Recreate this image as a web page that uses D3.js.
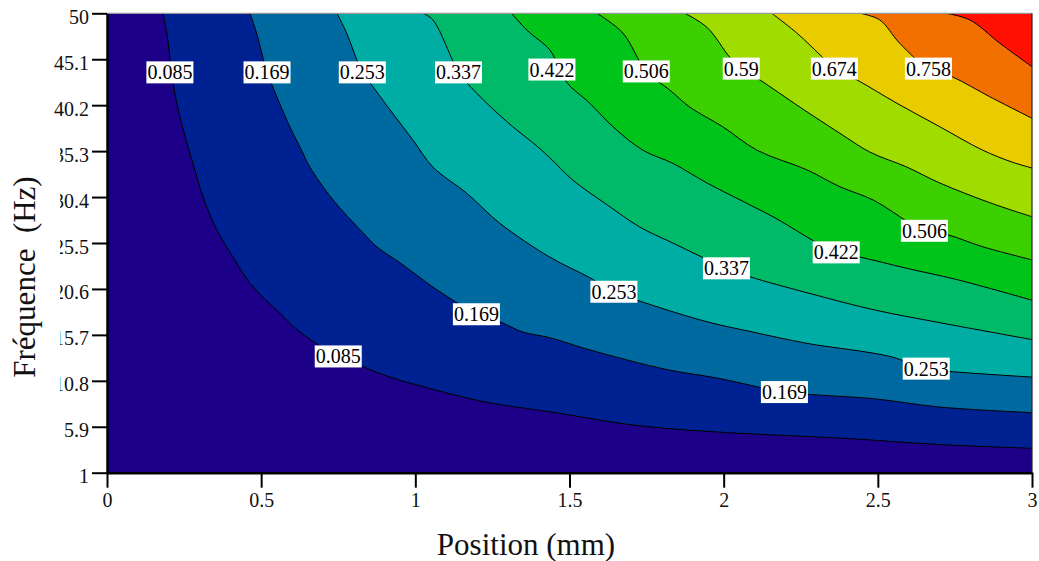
<!DOCTYPE html>
<html>
<head>
<meta charset="utf-8">
<script src="https://cdn.jsdelivr.net/npm/d3@7"></script>
<style>
  html, body { margin: 0; padding: 0; background: #fff; }
  svg { display: block; font-family: "Liberation Serif", "Times New Roman", serif; }
  svg text { font-family: "Liberation Serif", "Times New Roman", serif; }
</style>
</head>
<body>
<svg id="chart" width="1039" height="561"></svg>
<script>
// ---- Data ----
const xTicks = [0, 0.5, 1, 1.5, 2, 2.5, 3];
const xTickLabels = ["0", "0.5", "1", "1.5", "2", "2.5", "3"];
const yTicks = [1, 5.9, 10.8, 15.7, 20.6, 25.5, 30.4, 35.3, 40.2, 45.1, 50];
const yTickLabels = ["1", "5.9", "10.8", "15.7", "20.6", "25.5", "30.4", "35.3", "40.2", "45.1", "50"];

const levels = [0.085, 0.169, 0.253, 0.337, 0.422, 0.506, 0.59, 0.674, 0.758, 0.842];
const levelLabels = ["0.085", "0.169", "0.253", "0.337", "0.422", "0.506", "0.59", "0.674", "0.758", "0.842"];

// Region colours: below first level, then between levels, then above last level
const bandColors = ["#1c0087", "#002191", "#0069a0", "#00ada5", "#00b969", "#00c419",
                    "#3cd000", "#a0dc00", "#e8cc00", "#f27000", "#ff1000"];

// Contour lines as [position mm, frequency Hz]
const c085 = [[0.181,50],[0.194,47.9],[0.214,42.6],[0.237,38.9],[0.266,35.4],[0.291,32.6],[0.315,30.1],
  [0.356,26.9],[0.409,24.0],[0.464,21.2],[0.561,18.0],[0.626,16.0],[0.749,13.4],[0.830,12.3],[0.918,11.2],
  [1.057,9.9],[1.219,8.6],[1.349,7.9],[1.436,7.5],[1.728,6.0],[2.053,5.2],[2.377,4.7],[2.701,4.0],[3.0,3.6]];
const c169 = [[0.464,50],[0.485,47.9],[0.519,43.7],[0.538,42.1],[0.593,37.9],[0.631,35.4],[0.658,33.6],
  [0.733,30.1],[0.830,26.6],[0.875,25.1],[0.950,23.4],[1.057,20.8],[1.122,19.4],[1.198,17.9],[1.274,17.1],
  [1.349,16.0],[1.436,15.4],[1.566,14.1],[1.816,12.0],[1.978,11.1],[2.197,9.6],[2.302,9.3],[2.484,8.9],
  [2.701,8.0],[3.0,7.4]];
const c253 = [[0.746,50],[0.777,47.9],[0.828,43.7],[0.853,42.6],[0.918,39.7],[0.992,36.5],[1.057,33.6],
  [1.167,30.8],[1.274,27.6],[1.436,24.0],[1.566,21.8],[1.644,20.3],[1.719,19.4],[1.946,17.1],[2.095,16.0],
  [2.270,14.8],[2.539,13.4],[2.657,12.1],[2.733,11.8],[3.0,11.2]];
const c337 = [[1.025,50],[1.057,49.3],[1.140,43.7],[1.167,42.6],[1.232,40.4],[1.316,37.9],[1.381,36.2],
  [1.436,34.6],[1.511,32.2],[1.621,29.6],[1.728,27.2],[1.835,25.5],[2.009,22.8],[2.085,21.9],[2.270,20.2],
  [2.484,18.4],[2.701,17.0],[3.0,15.2]];
const c422 = [[1.312,50],[1.362,48.2],[1.436,46.1],[1.463,44.4],[1.492,42.6],[1.566,40.4],[1.641,37.9],
  [1.738,35.4],[1.835,34.0],[1.946,31.9],[2.053,30.1],[2.160,28.3],[2.365,24.5],[2.442,24.0],[2.594,22.8],
  [2.756,21.6],[3.0,19.4]];
const c506 = [[1.589,50],[1.673,47.9],[1.749,43.8],[1.826,41.8],[1.890,40.0],[1.997,37.9],[2.108,35.4],
  [2.270,33.3],[2.377,31.5],[2.484,30.1],[2.651,26.8],[2.724,26.4],[2.840,25.1],[3.0,23.7]];
const c590 = [[1.874,50],[1.946,48.5],[2.020,45.3],[2.057,44.1],[2.117,42.9],[2.247,40.0],[2.377,37.2],
  [2.474,35.2],[2.594,33.6],[2.701,31.9],[2.863,29.8],[3.0,28.3]];
const c674 = [[2.156,50],[2.237,47.9],[2.321,45.3],[2.359,44.1],[2.432,42.9],[2.562,40.4],[2.701,37.9],
  [2.840,35.4],[2.938,34.1],[3.0,33.5]];
const c758 = [[2.442,50],[2.506,49.3],[2.571,46.8],[2.664,44.1],[2.743,43.2],[2.863,41.1],[3.0,38.8]];
const c842 = [[2.721,50],[2.798,49.3],[2.896,46.8],[3.0,44.3]];

const contourLines = [c085, c169, c253, c337, c422, c506, c590, c674, c758, c842];

// Inline contour labels: [level index, position mm, frequency Hz]
const contourLabels = [
  [0,0.204,43.7],[1,0.519,43.7],[2,0.828,43.7],[3,1.140,43.7],[4,1.443,44.0],[5,1.749,43.8],
  [6,2.057,44.1],[7,2.359,44.1],[8,2.664,44.1],
  [0,0.750,13.4],[1,1.198,17.9],[1,2.197,9.6],[2,1.644,20.3],[2,2.657,12.1],
  [3,2.009,22.8],[4,2.365,24.5],[5,2.651,26.8]
];

// ---- Drawing ----
const FONT = "Liberation Serif, Times New Roman, serif";
const svg = d3.select("#chart");
const x = d3.scaleLinear().domain([0, 3]).range([107, 1032]);
const y = d3.scaleLinear().domain([1, 50]).range([472.7, 13.3]);

svg.append("defs").append("clipPath").attr("id", "plotClip")
  .append("rect").attr("x", x(0)).attr("y", y(50))
  .attr("width", x(3) - x(0)).attr("height", y(1) - y(50));

const plot = svg.append("g").attr("clip-path", "url(#plotClip)");

plot.append("rect")
  .attr("x", x(0)).attr("y", y(50))
  .attr("width", x(3) - x(0)).attr("height", y(1) - y(50))
  .attr("fill", bandColors[0]);

const line = d3.line().x(d => x(d[0])).y(d => y(d[1])).curve(d3.curveCatmullRom.alpha(0.5));

contourLines.forEach((pts, i) => {
  plot.append("path")
    .attr("d", line(pts) + `L${x(3)},${y(50)}Z`)
    .attr("fill", bandColors[i + 1])
    .attr("stroke", "none");
});
contourLines.forEach(pts => {
  plot.append("path")
    .attr("d", line(pts))
    .attr("fill", "none")
    .attr("stroke", "#000")
    .attr("stroke-width", 1);
});

// labels
const lab = svg.append("g");
contourLabels.forEach(([li, px, pf]) => {
  const g = lab.append("g").attr("transform", `translate(${x(px)},${y(pf)})`);
  const t = g.append("text")
    .attr("text-anchor", "middle")
    .attr("y", 7)
    .attr("font-family", FONT)
    .attr("font-size", 20)
    .attr("fill", "#000")
    .text(levelLabels[li]);
  const bb = t.node().getBBox();
  g.insert("rect", "text")
    .attr("x", -bb.width / 2 - 1).attr("y", -11)
    .attr("width", bb.width + 2).attr("height", 22)
    .attr("fill", "#fff");
});

// frame: top and right
svg.append("line").attr("x1", x(0)).attr("x2", x(3)).attr("y1", y(50)).attr("y2", y(50))
  .attr("stroke", "#999").attr("stroke-width", 1.2);
svg.append("line").attr("x1", x(3)).attr("x2", x(3)).attr("y1", y(50)).attr("y2", y(1))
  .attr("stroke", "#222").attr("stroke-width", 1.2);

// axes
const xAxis = svg.append("g").attr("transform", `translate(0,${y(1)})`)
  .call(d3.axisBottom(x).tickValues(xTicks).tickSize(15).tickSizeOuter(0)
    .tickFormat((d, i) => xTickLabels[i]));
const yAxis = svg.append("g").attr("transform", `translate(${x(0)},0)`)
  .call(d3.axisLeft(y).tickValues(yTicks).tickSize(15).tickSizeOuter(0)
    .tickFormat((d, i) => yTickLabels[i]));

[xAxis, yAxis].forEach(a => {
  a.attr("font-family", FONT);
  a.select(".domain").attr("stroke", "#000").attr("stroke-width", 2.5);
  a.selectAll(".tick line").attr("stroke", "#000").attr("stroke-width", 2);
  a.selectAll(".tick text").attr("font-family", FONT).attr("font-size", 20).attr("fill", "#111");
});
xAxis.selectAll(".tick text").attr("y", 20).attr("dy", "0.71em");
yAxis.selectAll(".tick text").attr("x", -18).attr("dy", "0.5em");

// white box of the y-axis title (it overlaps tick labels in the reference)
svg.append("rect").attr("x", 0).attr("y", 128).attr("width", 60).attr("height", 285).attr("fill", "#fff");

svg.append("text")
  .attr("transform", "translate(35,277) rotate(-90)")
  .attr("text-anchor", "middle")
  .attr("font-family", FONT)
  .attr("font-size", 31)
  .attr("fill", "#111")
  .style("white-space", "pre")
  .text("Fréquence  (Hz)");

svg.append("text")
  .attr("x", 526).attr("y", 555)
  .attr("text-anchor", "middle")
  .attr("font-family", FONT)
  .attr("font-size", 31)
  .attr("fill", "#111")
  .text("Position (mm)");
</script>
</body>
</html>
